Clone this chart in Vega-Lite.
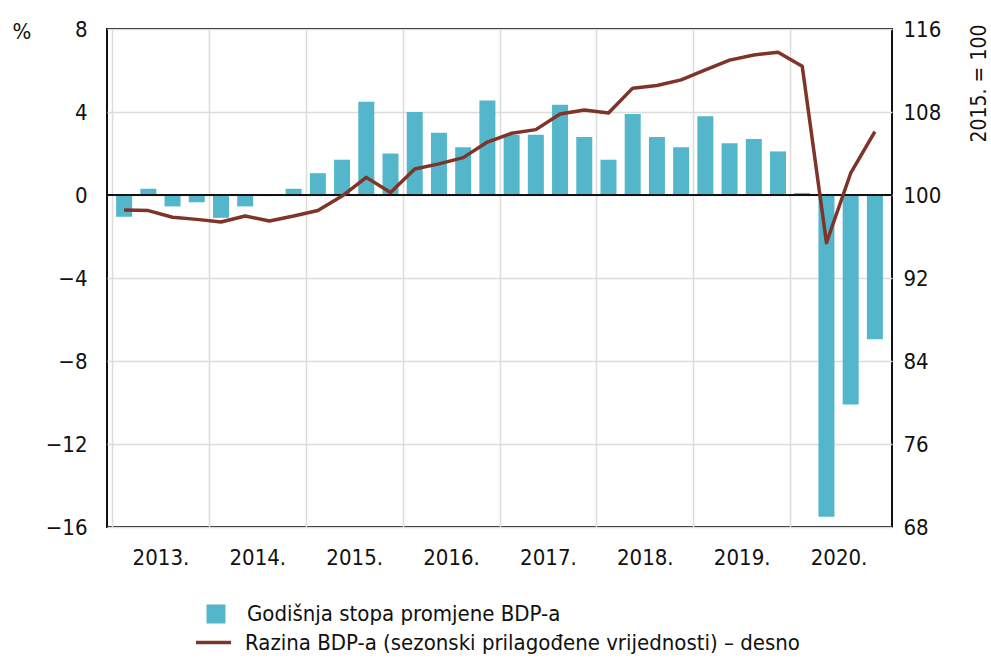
{
  "$schema": "https://vega.github.io/schema/vega-lite/v6.json",
  "width": 785,
  "height": 498,
  "autosize": {"type": "none"},
  "padding": {"left": 107, "top": 29, "right": 99, "bottom": 139},
  "background": "white",
  "config": {
    "view": {"stroke": "#111", "strokeWidth": 2},
    "font": "'DejaVu Sans Condensed', 'Liberation Sans', sans-serif",
    "axis": {
      "domain": false,
      "ticks": false,
      "labelFont": "'DejaVu Sans Condensed', 'Liberation Sans', sans-serif",
      "labelFontSize": 22,
      "labelColor": "#111",
      "titleFont": "'DejaVu Sans Condensed', 'Liberation Sans', sans-serif",
      "titleFontWeight": "normal",
      "titleColor": "#111",
      "gridColor": "#dcdcdc",
      "gridWidth": 1.5
    },
    "legend": {
      "labelFont": "'DejaVu Sans Condensed', 'Liberation Sans', sans-serif",
      "labelFontSize": 22,
      "labelColor": "#111",
      "labelLimit": 0,
      "padding": 0
    }
  },
  "data": {
    "values": [
      {"quarter": "2013Q1", "x": 2013.125, "growth": -1.05, "level": 98.55},
      {"quarter": "2013Q2", "x": 2013.375, "growth": 0.3, "level": 98.5},
      {"quarter": "2013Q3", "x": 2013.625, "growth": -0.55, "level": 97.85},
      {"quarter": "2013Q4", "x": 2013.875, "growth": -0.35, "level": 97.65},
      {"quarter": "2014Q1", "x": 2014.125, "growth": -1.1, "level": 97.4},
      {"quarter": "2014Q2", "x": 2014.375, "growth": -0.55, "level": 97.97},
      {"quarter": "2014Q3", "x": 2014.625, "growth": -0.05, "level": 97.5},
      {"quarter": "2014Q4", "x": 2014.875, "growth": 0.3, "level": 97.97},
      {"quarter": "2015Q1", "x": 2015.125, "growth": 1.05, "level": 98.5},
      {"quarter": "2015Q2", "x": 2015.375, "growth": 1.7, "level": 99.9},
      {"quarter": "2015Q3", "x": 2015.625, "growth": 4.5, "level": 101.7},
      {"quarter": "2015Q4", "x": 2015.875, "growth": 2.0, "level": 100.25},
      {"quarter": "2016Q1", "x": 2016.125, "growth": 4.0, "level": 102.5},
      {"quarter": "2016Q2", "x": 2016.375, "growth": 3.0, "level": 103.0},
      {"quarter": "2016Q3", "x": 2016.625, "growth": 2.3, "level": 103.6},
      {"quarter": "2016Q4", "x": 2016.875, "growth": 4.55, "level": 105.1},
      {"quarter": "2017Q1", "x": 2017.125, "growth": 2.9, "level": 105.95},
      {"quarter": "2017Q2", "x": 2017.375, "growth": 2.9, "level": 106.3},
      {"quarter": "2017Q3", "x": 2017.625, "growth": 4.35, "level": 107.8},
      {"quarter": "2017Q4", "x": 2017.875, "growth": 2.8, "level": 108.2},
      {"quarter": "2018Q1", "x": 2018.125, "growth": 1.7, "level": 107.9},
      {"quarter": "2018Q2", "x": 2018.375, "growth": 3.9, "level": 110.3},
      {"quarter": "2018Q3", "x": 2018.625, "growth": 2.8, "level": 110.55},
      {"quarter": "2018Q4", "x": 2018.875, "growth": 2.3, "level": 111.1},
      {"quarter": "2019Q1", "x": 2019.125, "growth": 3.8, "level": 112.05},
      {"quarter": "2019Q2", "x": 2019.375, "growth": 2.5, "level": 113.0},
      {"quarter": "2019Q3", "x": 2019.625, "growth": 2.7, "level": 113.5},
      {"quarter": "2019Q4", "x": 2019.875, "growth": 2.1, "level": 113.75},
      {"quarter": "2020Q1", "x": 2020.125, "growth": 0.1, "level": 112.4},
      {"quarter": "2020Q2", "x": 2020.375, "growth": -15.5, "level": 95.4},
      {"quarter": "2020Q3", "x": 2020.625, "growth": -10.1, "level": 102.1},
      {"quarter": "2020Q4", "x": 2020.875, "growth": -6.95, "level": 106.1}
    ]
  },
  "layer": [
    {
      "layer": [
        {
          "mark": {"type": "bar", "size": 16},
          "encoding": {
            "x": {
              "field": "x",
              "type": "quantitative",
              "scale": {"domain": [2013, 2021], "nice": false, "zero": false},
              "axis": {
                "orient": "bottom",
                "values": [2013, 2014, 2015, 2016, 2017, 2018, 2019, 2020],
                "grid": true,
                "labels": false,
                "title": null
              }
            },
            "y": {
              "field": "growth",
              "type": "quantitative",
              "scale": {"domain": [-16, 8], "nice": false},
              "axis": {
                "orient": "left",
                "values": [-16, -12, -8, -4, 0, 4, 8],
                "grid": true,
                "labelPadding": 20,
                "title": "%",
                "titleFontSize": 22,
                "titleAngle": 0,
                "titleAlign": "left",
                "titleBaseline": "alphabetic",
                "titleX": -95,
                "titleY": 9
              }
            },
            "fill": {
              "datum": "Godišnja stopa promjene BDP-a",
              "scale": {"range": ["#54b6cb"]},
              "legend": {
                "orient": "none",
                "legendX": 98,
                "legendY": 574,
                "title": null,
                "symbolType": "square",
                "symbolSize": 361,
                "symbolStrokeWidth": 0,
                "labelOffset": 20
              }
            }
          }
        },
        {
          "mark": {"type": "rule", "color": "#111", "strokeWidth": 1.8},
          "encoding": {"y": {"datum": 0}}
        }
      ]
    },
    {
      "mark": {"type": "line", "strokeWidth": 3.5, "strokeJoin": "round"},
      "encoding": {
        "x": {
          "field": "x",
          "type": "quantitative",
          "axis": {
            "orient": "bottom",
            "values": [2013.5, 2014.5, 2015.5, 2016.5, 2017.5, 2018.5, 2019.5, 2020.5],
            "labelExpr": "floor(datum.value) + '.'",
            "grid": false,
            "labelPadding": 20,
            "title": null
          }
        },
        "y": {
          "field": "level",
          "type": "quantitative",
          "scale": {"domain": [68, 116], "nice": false, "zero": false},
          "axis": {
            "orient": "right",
            "values": [68, 76, 84, 92, 100, 108, 116],
            "grid": false,
            "labelPadding": 11,
            "title": "2015. = 100",
            "titleFontSize": 21,
            "titleAngle": 270,
            "titleAlign": "center",
            "titleBaseline": "middle",
            "titleX": 87,
            "titleY": 54
          }
        },
        "stroke": {
          "datum": "Razina BDP-a (sezonski prilagođene vrijednosti) – desno",
          "scale": {"range": ["#7e3428"]},
          "legend": {
            "orient": "none",
            "legendX": 87,
            "legendY": 594,
            "title": null,
            "symbolType": "stroke",
            "symbolSize": 1225,
            "symbolStrokeWidth": 3.5,
            "labelOffset": 12
          }
        }
      }
    }
  ],
  "resolve": {
    "scale": {"y": "independent", "fill": "independent", "stroke": "independent"},
    "axis": {"x": "independent"}
  }
}
